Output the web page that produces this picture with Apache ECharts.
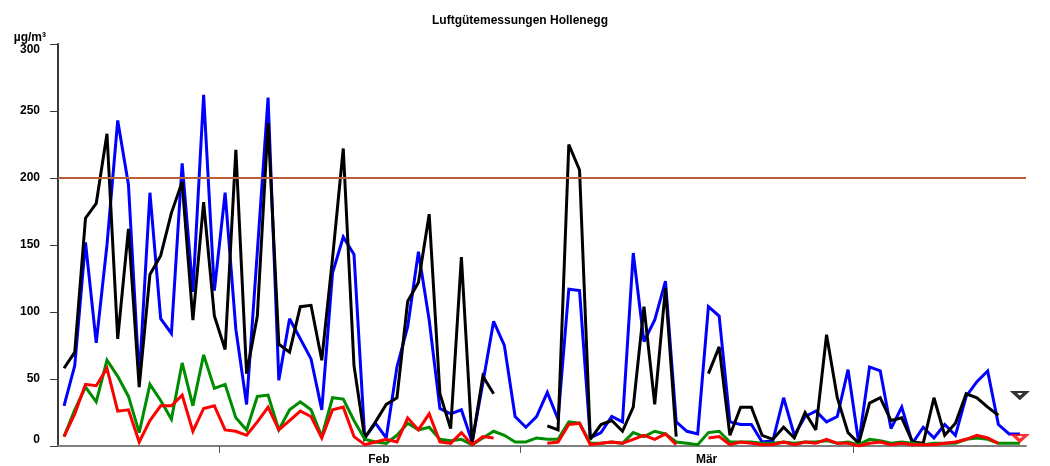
<!DOCTYPE html>
<html>
<head>
<meta charset="utf-8">
<title>Luftgütemessungen Hollenegg</title>
<script src="https://cdn.jsdelivr.net/npm/echarts@6/dist/echarts.min.js"></script>
<style>
  html, body { margin: 0; padding: 0; background: #ffffff; }
  #chart { width: 1050px; height: 466px; }
</style>
</head>
<body>
<div id="chart"></div>
<script>
// Daily values from 17 January (noon) onward, µg/m³; null = no measurement
const firstDay = 16.5; // day of year (0 = 1 Jan 00:00) of the first value

const blueSeries = [30, 60, 152, 77, 150, 243, 195, 50, 189, 95,
  84, 211, 115, 262, 116, 189, 87, 31, 145, 260,
  49, 95, 80, 65, 27, 129, 156, 143, 6, 17,
  6, 59, 89, 145, 94, 28, 24, 27, 3, 47,
  93, 75, 22, 14, 22, 40, 20, 117, 116, 6,
  10, 22, 18, 144, 78, 94, 123, 18, 11, 9,
  104, 97, 18, 16, 16, 3, 4, 36, 8, 22,
  26, 18, 22, 57, 2, 59, 56, 13, 29, 2,
  14, 6, 16, 8, 37, 48, 56, 16, 9, 9];

const blackSeries = [58, 70, 170, 181, 233, 80, 162, 44, 128, 142,
  174, 197, 94, 182, 97, 72, 221, 54, 97, 241,
  76, 70, 104, 105, 64, 140, 222, 60, 6, 18,
  31, 36, 108, 122, 173, 39, 13, 141, 2, 52,
  39, null, null, null, null, 15, 12, 225, 206, 5,
  16, 19, 11, 29, 104, 31, 118, 7, null, null,
  54, 74, 8, 29, 29, 8, 5, 14, 6, 25,
  12, 83, 36, 10, 2, 32, 36, 19, 21, 3,
  2, 36, 8, 17, 39, 36, 29, 23, null, 38];

const greenSeries = [7, 27, 44, 33, 64, 52, 37, 10, 46, 34,
  20, 62, 30, 68, 43, 46, 21, 12, 37, 38,
  12, 27, 33, 27, 7, 36, 35, 19, 5, 3,
  2, 8, 17, 12, 14, 5, 4, 5, 1, 6,
  11, 8, 3, 3, 6, 5, 5, 18, 17, 2,
  2, 3, 2, 10, 7, 11, 9, 3, 2, 1,
  10, 11, 3, 3, 3, 2, 2, 3, 2, 3,
  3, 4, 2, 3, 1, 5, 4, 2, 3, 2,
  1, 2, 2, 2, 5, 6, 5, 2, 2, 2];

const redSeries = [7, 24, 46, 45, 58, 26, 27, 3, 19, 30,
  30, 38, 11, 28, 30, 12, 11, 8, 18, 29,
  12, 19, 26, 22, 6, 27, 29, 7, 1, 3,
  5, 3, 21, 12, 24, 3, 2, 10, 1, 7,
  6, null, null, null, null, 2, 3, 16, 17, 1,
  2, 3, 2, 5, 8, 5, 9, 1, null, null,
  6, 7, 1, 3, 2, 1, 1, 3, 1, 3,
  2, 5, 2, 2, 0, 2, 3, 1, 2, 1,
  1, 1, 2, 3, 5, 8, 6, 2, null, 6];

const limitValue = 200;                 // limit line, µg/m³
const monthStartDays = [31, 59, 90];    // 1 Feb, 1 Mar, 1 Apr
const monthLabelDays = [45.81, 76.33];
const monthLabels = ['Feb', 'Mär'];
const yTicks = [0, 50, 100, 150, 200, 250, 300];

const FONT = '"Liberation Sans", Arial, sans-serif';

function toPoints(values) {
  return values.map((v, i) => [firstDay + i, v === null ? '-' : v]);
}

// values with no neighbour on either side are shown as a marker
function isolatedPoints(values) {
  const pts = [];
  values.forEach((v, i) => {
    if (v === null) return;
    const prev = i > 0 ? values[i - 1] : null;
    const next = i < values.length - 1 ? values[i + 1] : null;
    if (prev === null && next === null) pts.push([firstDay + i, v]);
  });
  return pts;
}

function lineSeries(name, values, color, z) {
  return {
    name: name,
    type: 'line',
    data: toPoints(values),
    showSymbol: false,
    symbol: 'none',
    connectNulls: false,
    z: z,
    lineStyle: { color: color, width: 3, join: 'miter', miterLimit: 3 },
    emphasis: { disabled: true }
  };
}

function markerSeries(name, values, color, z) {
  return {
    name: name,
    type: 'scatter',
    data: isolatedPoints(values),
    symbol: 'triangle',
    symbolRotate: 180,
    symbolSize: [13, 6],
    z: z,
    itemStyle: { color: '#ffffff', borderColor: color, borderWidth: 3 },
    emphasis: { disabled: true }
  };
}

const chart = echarts.init(document.getElementById('chart'), null, { renderer: 'canvas' });

chart.setOption({
  animation: false,
  backgroundColor: '#ffffff',
  title: {
    text: 'Luftgütemessungen Hollenegg',
    left: 427,
    top: 10,
    textStyle: { fontFamily: FONT, fontSize: 12, fontWeight: 'bold', color: '#000000' }
  },
  grid: { left: 58, right: 24, top: 44, bottom: 20, containLabel: false },
  xAxis: {
    type: 'value',
    min: 15.94,
    max: 106.07,
    axisLine: { show: true, onZero: false, lineStyle: { color: '#7f7f7f', width: 2 } },
    axisTick: { show: true, customValues: monthStartDays, length: 7, lineStyle: { color: '#555555', width: 1 } },
    axisLabel: {
      show: true,
      customValues: monthLabelDays,
      margin: 8,
      fontFamily: FONT, fontSize: 12, fontWeight: 'bold', color: '#000000',
      formatter: function (v) {
        const k = monthLabelDays.findIndex(d => Math.abs(d - v) < 0.01);
        return k >= 0 ? monthLabels[k] : '';
      }
    },
    splitLine: { show: false }
  },
  yAxis: {
    type: 'value',
    min: yTicks[0],
    max: yTicks[yTicks.length - 1],
    interval: yTicks[1] - yTicks[0],
    name: 'µg/m³',
    nameLocation: 'end',
    nameGap: 6,
    nameTextStyle: {
      fontFamily: FONT, fontSize: 12, fontWeight: 'bold', color: '#000000',
      align: 'right', verticalAlign: 'middle', padding: [0, 12, 0, 0]
    },
    axisLine: { show: true, lineStyle: { color: '#3a3a3a', width: 2 } },
    axisTick: { show: true, length: 8, lineStyle: { color: '#3a3a3a', width: 1 } },
    axisLabel: {
      margin: 18,
      fontFamily: FONT, fontSize: 12, fontWeight: 'bold', color: '#000000',
      verticalAlignMinLabel: 'bottom',
      verticalAlignMaxLabel: 'top'
    },
    splitLine: { show: false }
  },
  series: [
    {
      name: 'Grenzwert',
      type: 'line',
      data: [],
      z: 1,
      markLine: {
        silent: true,
        symbol: 'none',
        label: { show: false },
        lineStyle: { color: '#b8603a', width: 2, type: 'solid' },
        emphasis: { disabled: true },
        data: [{ yAxis: limitValue }]
      }
    },
    lineSeries('Messreihe blau', blueSeries, '#0000ff', 2),
    lineSeries('Messreihe schwarz', blackSeries, '#000000', 3),
    lineSeries('Messreihe grün', greenSeries, '#008c00', 4),
    lineSeries('Messreihe rot', redSeries, '#ff0000', 5),
    markerSeries('Einzelwert schwarz', blackSeries, '#000000', 6),
    markerSeries('Einzelwert rot', redSeries, '#ff0000', 6)
  ]
});
</script>
</body>
</html>
